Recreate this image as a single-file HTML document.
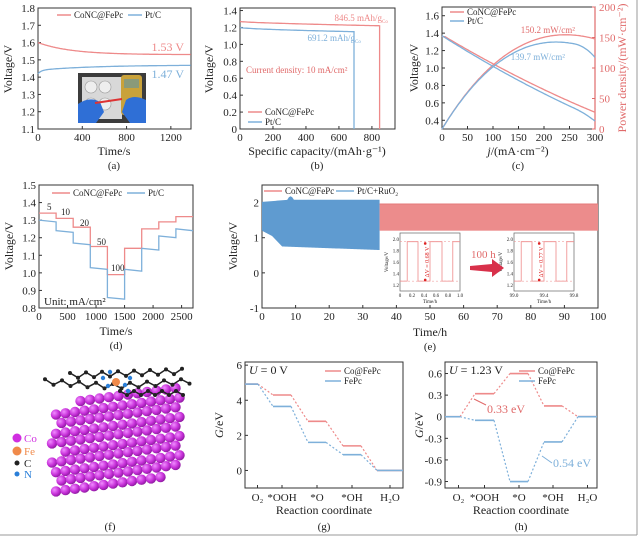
<!DOCTYPE html>
<html><head><meta charset="utf-8">
<style>
html,body{margin:0;padding:0;background:#fff;}
svg{display:block;font-family:"Liberation Serif","DejaVu Serif",serif;}
</style></head>
<body>
<svg id="s" xmlns="http://www.w3.org/2000/svg" width="639" height="537" viewBox="0 0 639 537">
<defs>
<radialGradient id="co" cx="0.35" cy="0.35" r="0.7"><stop offset="0" stop-color="#f08cff"/><stop offset="0.6" stop-color="#c62fd8"/><stop offset="1" stop-color="#8a1a9c"/></radialGradient>
</defs>
<rect x="0" y="0" width="639" height="537" fill="#fff"/>
<line x1="637" y1="0" x2="637" y2="535" stroke="#999" stroke-width="1"/>
<line x1="0" y1="535" x2="637" y2="535" stroke="#999" stroke-width="1"/>
</svg>
<script>
const NS="http://www.w3.org/2000/svg",S=document.getElementById('s');
const RED="#ee8a8a",BLUE="#7eb0da",DR="#e06a6a";
function el(t,a,txt,par){const e=document.createElementNS(NS,t);for(const k in a)e.setAttribute(k,a[k]);if(txt!=null)e.textContent=txt;(par||S).appendChild(e);return e;}
function ln(x1,y1,x2,y2,c,w,d){return el('line',{x1,y1,x2,y2,stroke:c,'stroke-width':w||1,'stroke-dasharray':d||'none'});}
function tx(x,y,t,o){o=o||{};const a={x,y,'font-size':o.fs||11,fill:o.c||'#222','text-anchor':o.a||'start'};if(o.r!=null)a.transform=`rotate(${o.r} ${x} ${y})`;if(o.st)a['font-style']=o.st;return el('text',a,t);}
function pl(pts,c,w,d){return el('polyline',{points:pts.map(p=>p[0].toFixed(1)+','+p[1].toFixed(1)).join(' '),fill:'none',stroke:c,'stroke-width':w||1.3,'stroke-dasharray':d||'none'});}
function panel(o){
 const X=v=>o.x0+(v-o.xr[0])/(o.xr[1]-o.xr[0])*(o.x1-o.x0);
 const Y=v=>o.y1-(v-o.yr[0])/(o.yr[1]-o.yr[0])*(o.y1-o.y0);
 el('rect',{x:o.x0,y:o.y0,width:o.x1-o.x0,height:o.y1-o.y0,fill:'none',stroke:'#333','stroke-width':1});
 (o.xt||[]).forEach(v=>{ln(X(v),o.y1,X(v),o.y1-3,'#333');tx(X(v),o.y1+12,o.xf?o.xf(v):String(v),{a:'middle',fs:o.fs});});
 (o.yt||[]).forEach(v=>{ln(o.x0,Y(v),o.x0+3,Y(v),'#333');tx(o.x0-3,Y(v)+4,o.yf?o.yf(v):String(v),{a:'end',fs:o.fs});});
 return [X,Y];
}
function leg(x,y,c,t,len,fs){ln(x,y,x+(len||14),y,c,1.5);tx(x+(len||14)+3,y+3,t,{fs:fs||9});}

/* ---------- (a) ---------- */
{const [X,Y]=panel({x0:38,x1:191,y0:8,y1:129,xr:[0,1382],yr:[1.1,1.8],xt:[0,400,800,1200],yt:[1.1,1.2,1.3,1.4,1.5,1.6,1.7,1.8],yf:v=>v.toFixed(1)});
 let r=[],b=[];for(let t=0;t<=1382;t+=10){r.push([X(t),Y(1.53+0.07*Math.exp(-t/300))]);b.push([X(t),Y(1.47-0.03*Math.exp(-t/500)-0.02*Math.exp(-t/30))]);}
 pl(r,RED);pl(b,BLUE);
 leg(57,15,RED,'CoNC@FePc');leg(128,15,BLUE,'Pt/C');
 tx(184,51,'1.53 V',{a:'end',c:RED,fs:12});tx(184,78,'1.47 V',{a:'end',c:BLUE,fs:12});
 el('rect',{x:78,y:73,width:68,height:50,fill:'#3c3c3c'});
 el('rect',{x:82,y:77,width:40,height:42,fill:'#d8d8d8'});
 [[91,87],[105,87],[91,104],[105,104]].forEach(p=>el('circle',{cx:p[0],cy:p[1],r:6,fill:'#eee',stroke:'#999','stroke-width':0.6}));
 el('rect',{x:121,y:75,width:21,height:40,rx:3,fill:'#c9a23a'});
 el('rect',{x:124,y:79,width:15,height:9,fill:'#8a9a7a'});
 el('path',{d:'M78 123 L78 104 Q90 96 100 102 L104 112 L96 123Z',fill:'#2f6fd6'});
 el('path',{d:'M146 123 L146 100 Q134 94 126 100 L122 112 L130 123Z',fill:'#2f6fd6'});
 ln(95,103,122,99,'#d33',2);
 tx(12,69,'Voltage/V',{r:-90,a:'middle',fs:12});
 tx(114,155,'Time/s',{a:'middle',fs:12});tx(114,169,'(a)',{a:'middle',fs:11});
}
/* ---------- (b) ---------- */
{const [X,Y]=panel({x0:240,x1:395,y0:8,y1:129,xr:[0,940],yr:[0,1.43],xt:[0,200,400,600,800],yt:[0,0.2,0.4,0.6,0.8,1.0,1.2,1.4],yf:v=>v==0?'0':v.toFixed(1)});
 let r=[],b=[];for(let c=0;c<=846.5;c+=10)r.push([X(c),Y(1.27-0.05*Math.pow(c/846.5,0.7))]);r.push([X(846.5),Y(1.22)],[X(846.5),Y(0)]);
 for(let c=0;c<=691.2;c+=10)b.push([X(c),Y(1.2-0.05*Math.pow(c/691.2,0.6))]);b.push([X(691.2),Y(1.15)],[X(691.2),Y(0)]);
 pl(r,RED);pl(b,BLUE);
 tx(382,21,'846.5 mAh/g',{a:'end',c:RED,fs:9});tx(382,23,'Co',{c:RED,fs:5});
 tx(355,41,'691.2 mAh/g',{a:'end',c:BLUE,fs:9});tx(355,43,'Co',{c:BLUE,fs:5});
 tx(246,73,'Current density: 10 mA/cm²',{c:DR,fs:9});
 leg(248,112,RED,'CoNC@FePc');leg(248,122,BLUE,'Pt/C');
 tx(213,69,'Voltage/V',{r:-90,a:'middle',fs:12});
 tx(317,155,'Specific capacity/(mAh·g⁻¹)',{a:'middle',fs:12});tx(317,169,'(b)',{a:'middle',fs:11});
}
/* ---------- (c) ---------- */
{const [X,Y]=panel({x0:442,x1:595,y0:7,y1:129,xr:[0,300],yr:[0.3,1.7],xt:[0,50,100,150,200,250,300],yt:[0.4,0.6,0.8,1.0,1.2,1.4,1.6],yf:v=>v.toFixed(1)});
 ln(595,7,595,129,DR,1.2);
 const YP=p=>129-p/200*122;
 [0,50,100,150,200].forEach(v=>{ln(595,YP(v),592,YP(v),DR);tx(599,YP(v)+4,String(v),{c:DR});});
 const vr=j=>1.38-0.0035*j+0.0000018*j*j;
 const vb=j=>1.37-0.0037*j+0.0000019*j*j-(j>260?0.04*Math.pow((j-260)/40,2):0);
 let r=[],b=[],pr=[],pb=[];for(let j=0;j<=300;j+=3){r.push([X(j),Y(Math.min(vr(j),1.36))]);b.push([X(j),Y(vb(j))]);pr.push([X(j),YP(vr(j)*j)]);pb.push([X(j),YP(vb(j)*j)]);}
 pl(r,RED);pl(pr,RED);pl(b,BLUE);pl(pb,BLUE);
 leg(450,12,RED,'CoNC@FePc');leg(450,21,BLUE,'Pt/C');
 tx(575,33,'150.2 mW/cm²',{a:'end',c:DR,fs:9});tx(565,60,'139.7 mW/cm²',{a:'end',c:BLUE,fs:9});
 tx(418,68,'Voltage/V',{r:-90,a:'middle',fs:12});
 tx(626,68,'Power density/(mW·cm⁻²)',{r:-90,a:'middle',fs:12,c:DR});
 const t=tx(518,155,'',{a:'middle',fs:12});el('tspan',{'font-style':'italic'},'j',t);el('tspan',{},'/(mA·cm⁻²)',t);
 tx(518,169,'(c)',{a:'middle',fs:11});
}
/* ---------- (d) ---------- */
{const [X,Y]=panel({x0:39,x1:193,y0:185,y1:308,xr:[0,2700],yr:[0.8,1.5],xt:[0,500,1000,1500,2000,2500],yt:[0.8,0.9,1.0,1.1,1.2,1.3,1.4,1.5],yf:v=>v.toFixed(1)});
 const rv=[1.34,1.31,1.26,1.15,0.99,1.14,1.25,1.29,1.32],bv=[1.30,1.24,1.17,1.03,0.86,1.02,1.14,1.21,1.25];
 function steps(v,c,drift){let p=[];v.forEach((y,i)=>{p.push([X(i*300),Y(y)]);p.push([X(i*300+300),Y(y-drift)]);});pl(p,c);}
 steps(rv,RED,0.0);steps(bv,BLUE,0.01);
 leg(52,193,RED,'CoNC@FePc',18);leg(127,193,BLUE,'Pt/C',18);
 tx(47,210,'5',{fs:9});tx(61,215,'10',{fs:9});tx(80,226,'20',{fs:9});tx(97,245,'50',{fs:9});tx(111,271,'100',{fs:9});
 tx(44,305,'Unit: mA/cm²',{fs:11});
 tx(13,246,'Voltage/V',{r:-90,a:'middle',fs:12});
 tx(116,335,'Time/s',{a:'middle',fs:12});tx(116,349,'(d)',{a:'middle',fs:11});
}
/* ---------- (e) ---------- */
{const [X,Y]=panel({x0:262,x1:598,y0:185,y1:308,xr:[0,100],yr:[-1,2.5],xt:[0,10,20,30,40,50,60,70,80,90,100],yt:[-1,0,1,2]});
 let top=[],bot=[];for(let t=0;t<=35;t+=0.5){let u=2.02+0.06*Math.min(1,t/8)+(t>7.5&&t<9.5?0.1*Math.sin((t-7.5)/2*Math.PI):0);top.push([X(t),Y(u)]);
  let l=t<3?1.2-0.05*t:(t<6?1.05-0.1*(t-3):0.75-0.1*(t-6)/29);bot.push([X(t),Y(l)]);}
 el('polygon',{points:top.concat(bot.reverse()).map(p=>p.join(',')).join(' '),fill:'#5f9bd0'});
 el('rect',{x:X(35),y:Y(1.96),width:X(100)-X(35),height:Y(1.2)-Y(1.96),fill:'#ec8c8c'});
 ln(X(35),Y(1.96),X(100),Y(1.96),'#e57a7a',1);
 leg(264,191,RED,'CoNC@FePc',18);leg(336,191,BLUE,'Pt/C+RuO₂',18);
 function inset(x0,xl){const w=60,h=58,y0=233;el('rect',{x:x0,y:y0,width:w,height:h,fill:'#fff',stroke:'#666','stroke-width':0.7});
  const yy=v=>y0+h-(v-1.1)/1.0*h;
  [1.2,1.4,1.6,1.8,2.0].forEach(v=>tx(x0-1,yy(v)+2,v.toFixed(1),{a:'end',fs:5}));
  xl.forEach((s,i)=>tx(x0+i*w/(xl.length-1),y0+h+6,s,{a:'middle',fs:5}));
  tx(x0+w/2,y0+h+12,'Time/h',{a:'middle',fs:5});tx(x0-12,y0+h/2,'Voltage/V',{r:-90,a:'middle',fs:5});
  let p=[[x0,yy(1.27)]];
  let cur=1.27;[0.12,0.3,0.5,0.7,0.88].forEach((f,i)=>{const nv=i%2==0?1.95:1.27;p.push([x0+f*w,yy(cur)]);p.push([x0+f*w,yy(nv)]);cur=nv;});p.push([x0+w,yy(cur)]);
  pl(p,RED,0.8);
  ln(x0,yy(1.95),x0+w,yy(1.95),RED,0.5,'2 2');ln(x0,yy(1.27),x0+w,yy(1.27),RED,0.5,'2 2');
  el('circle',{cx:x0+w*0.42,cy:yy(1.92),r:1.3,fill:'#d22'});el('circle',{cx:x0+w*0.42,cy:yy(1.29),r:1.3,fill:'#d22'});}
 inset(400,['0','0.2','0.4','0.6','0.8','1.0']);tx(400+60*0.48,262,'ΔV = 0.68 V',{r:-90,a:'middle',fs:6,c:'#d22'});
 inset(514,['99.0','99.4','99.8']);tx(514+60*0.48,262,'ΔV = 0.77 V',{r:-90,a:'middle',fs:6,c:'#d22'});
 el('polygon',{points:'470,266 492,264 492,259 504,268 492,277 492,272 470,270',fill:'#d8304a'});
 tx(471,258,'100 h',{c:DR,fs:11});
 tx(237,246,'Voltage/V',{r:-90,a:'middle',fs:12});
 tx(430,336,'Time/h',{a:'middle',fs:12});tx(430,350,'(e)',{a:'middle',fs:11});
}
/* ---------- (f) ---------- */
{for(let j=0;j<10;j++)for(let i=0;i<14;i++){if((j==0&&i<3)||(j==9&&i>11)||(j%3==2&&i==0))continue;
  const cx=52+i*9.5+(j%2)*4,cy=405+j*9.6-i*1.3;el('circle',{cx,cy,r:5.2,fill:'url(#co)'});}
 const C=[];for(let i=0;i<18;i++){C.push([45+i*8.5,386-Math.abs(i-8)*0.6+(i%2?3:-2)]);}
 const C2=[];for(let i=0;i<15;i++)C2.push([70+i*8,376+(i%2?2:-3)-i*0.3]);
 const C3=[];for(let i=0;i<10;i++)C3.push([120+i*7,393+(i%2?2:-2)]);
 [C,C2,C3].forEach(a=>{pl(a,'#222',1.5);a.forEach(p=>el('circle',{cx:p[0],cy:p[1],r:2,fill:'#222'}));});
 [[103,378],[108,386],[125,385],[130,378],[110,372],[128,391]].forEach(p=>el('circle',{cx:p[0],cy:p[1],r:2.2,fill:'#2a7fd8'}));
 el('circle',{cx:116,cy:382,r:4,fill:'#f08a4a'});
 [['Co','#d02ee0',442,4.5],['Fe','#f08a4a',455,4.5],['C','#222',467,2.5],['N','#2a7fd8',478,2.5]].forEach(([t,c,y,r])=>{el('circle',{cx:17,cy:y-4,r,fill:c});tx(24,y,t,{c:t=='C'?'#222':c,fs:11});});
 tx(110,530,'(f)',{a:'middle',fs:11});
}
/* ---------- (g),(h) ---------- */
function fed(o,lab,rv,bv,tk,tf){
 const [X,Y]=panel({x0:o.x0,x1:o.x1,y0:362,y1:488,xr:[o.x0,o.x1],yr:o.yr,yt:tk,yf:tf});
 const segs=o.segs;
 [[rv,RED],[bv,BLUE]].forEach(([v,c])=>{segs.forEach((s,i)=>{ln(s[0],Y(v[i]),s[1],Y(v[i]),c,1.6);if(i<4)ln(s[1],Y(v[i]),segs[i+1][0],Y(v[i+1]),c,1.2,'2 2');});});
 ['O₂','*OOH','*O','*OH','H₂O'].forEach((t,i)=>{const cx=(segs[i][0]+segs[i][1])/2+(i==0?6:0);ln(cx,488,cx,485,'#333');tx(cx,501,t,{a:'middle',fs:11});});
 const t=tx(o.x0+4,374,'',{fs:12});el('tspan',{'font-style':'italic'},'U',t);el('tspan',{},' = '+lab,t);
 leg(o.x1-78,371,RED,'Co@FePc',16);leg(o.x1-78,381,BLUE,'FePc',16);
 const g=tx(o.x0-22,425,'',{r:-90,a:'middle',fs:12});el('tspan',{'font-style':'italic'},'G',g);el('tspan',{},'/eV',g);
 tx((o.x0+o.x1)/2,514,'Reaction coordinate',{a:'middle',fs:12});
 return Y;
}
fed({x0:245,x1:403,yr:[-1,6.18],segs:[[245,258],[273,291],[308,326],[343,361],[377,403]]},'0 V',[4.92,4.3,2.8,1.4,0],[4.92,3.65,1.6,0.9,0],[0,2,4,6]);
tx(324,530,'(g)',{a:'middle',fs:11});
{fed({x0:445,x1:597,yr:[-0.99,0.76],segs:[[445,460],[475,494],[510,528],[544,562],[578,597]]},'1.23 V',[0,0.32,0.6,0.15,0],[0,-0.05,-0.9,-0.35,0],[0.6,0.3,0,-0.3,-0.6,-0.9],v=>v==0?'0':v.toFixed(1));
 ln(474,399,486,405,DR,1);tx(487,413,'0.33 eV',{c:DR,fs:12});
 ln(542,456,552,463,BLUE,1);tx(553,467,'0.54 eV',{c:BLUE,fs:12});
 tx(521,530,'(h)',{a:'middle',fs:11});}
</script>
</body></html>
